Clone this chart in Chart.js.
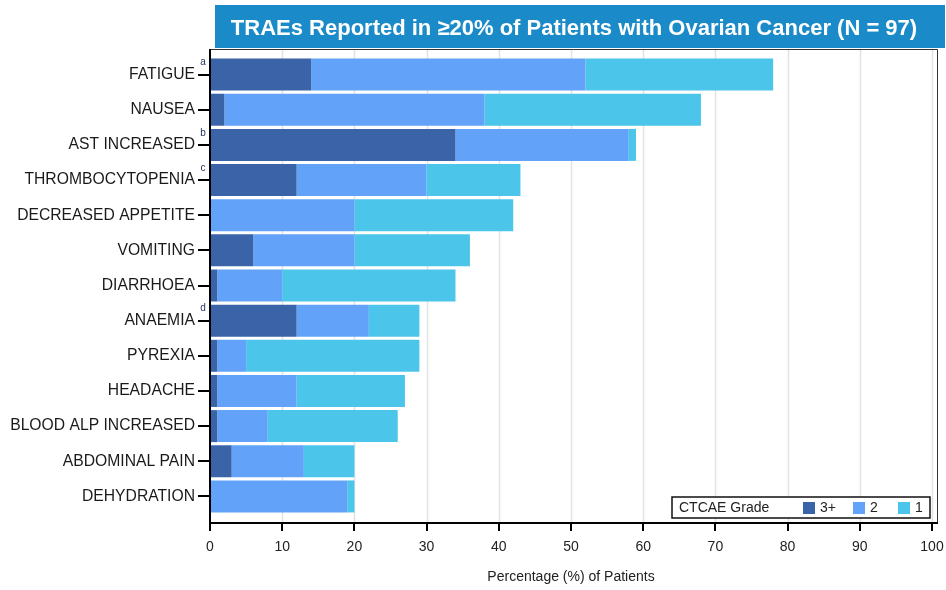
<!DOCTYPE html>
<html>
<head>
<meta charset="utf-8">
<script src="https://cdn.jsdelivr.net/npm/chart.js@4"></script>
<style>
  body { margin: 0; background: #fff; }
  #wrap { width: 946px; height: 590px; }
</style>
</head>
<body>
<div id="wrap"><canvas id="chart"></canvas></div>
<script>
// ------- DATA (percent of patients) -------
const events = ["FATIGUE", "NAUSEA", "AST INCREASED", "THROMBOCYTOPENIA", "DECREASED APPETITE",
  "VOMITING", "DIARRHOEA", "ANAEMIA", "PYREXIA", "HEADACHE", "BLOOD ALP INCREASED",
  "ABDOMINAL PAIN", "DEHYDRATION"];
const footnotes = ["a", "", "b", "c", "", "", "", "d", "", "", "", "", ""];
const grade3plus = [14, 2, 34, 12, 0, 6, 1, 12, 1, 1, 1, 3, 0];
const grade2 = [38, 36, 24, 18, 20, 14, 9, 10, 4, 11, 7, 10, 19];
const grade1 = [26, 30, 1, 13, 22, 16, 24, 7, 24, 15, 18, 7, 1];
const xTicks = [0, 10, 20, 30, 40, 50, 60, 70, 80, 90, 100];

const titleText = "TRAEs Reported in \u226520% of Patients with Ovarian Cancer (N = 97)";
const FONT = "'Liberation Sans', Arial, sans-serif";

// ------- EXTRA DRAWING: frame, grid, title box, legend, footnotes -------
const decor = {
  id: "decor",
  beforeDatasetsDraw(chart) {
    const { ctx, chartArea, scales } = chart;
    const top = chartArea.top - 8, bottom = chartArea.bottom + 9;
    ctx.save();
    ctx.strokeStyle = "#e2e2e2";
    ctx.lineWidth = 1.5;
    xTicks.slice(1).forEach(v => {
      const x = Math.round(scales.x.getPixelForValue(v)) + 0.5;
      ctx.beginPath(); ctx.moveTo(x, top); ctx.lineTo(x, bottom); ctx.stroke();
    });
    ctx.restore();
  },
  afterDraw(chart) {
    const { ctx, chartArea, scales } = chart;
    const top = chartArea.top - 8, bottom = chartArea.bottom + 9;
    const left = chartArea.left, right = chartArea.right + 5;
    ctx.save();

    // frame (top & right)
    ctx.strokeStyle = "#333";
    ctx.lineWidth = 1;
    ctx.beginPath();
    ctx.moveTo(left, top + 0.5); ctx.lineTo(right + 0.5, top + 0.5); ctx.lineTo(right + 0.5, bottom);
    ctx.stroke();

    // axes
    ctx.strokeStyle = "#000";
    ctx.lineWidth = 2;
    ctx.beginPath();
    ctx.moveTo(left, top); ctx.lineTo(left, bottom); ctx.lineTo(right + 1, bottom);
    ctx.stroke();
    xTicks.forEach(v => {
      const x = Math.round(scales.x.getPixelForValue(v));
      ctx.beginPath(); ctx.moveTo(x, bottom); ctx.lineTo(x, bottom + 8); ctx.stroke();
    });

    // footnote letters
    ctx.fillStyle = "#1f2f5a";
    ctx.font = "10px " + FONT;
    ctx.textAlign = "center";
    ctx.textBaseline = "middle";
    footnotes.forEach((f, i) => {
      if (!f) return;
      const y = scales.y.getPixelForValue(i);
      ctx.fillText(f, left - 7, y - 12);
    });

    // legend box
    const lx = 672, ly = 497, lw = 258, lh = 21;
    ctx.fillStyle = "#fff";
    ctx.fillRect(lx, ly, lw, lh);
    ctx.strokeStyle = "#111";
    ctx.lineWidth = 1.5;
    ctx.strokeRect(lx, ly, lw, lh);
    ctx.fillStyle = "#222";
    ctx.font = "14px " + FONT;
    ctx.textAlign = "left";
    ctx.fillText("CTCAE Grade", lx + 7, ly + lh / 2 + 1);
    let px = lx + 131;
    chart.data.datasets.forEach(ds => {
      ctx.fillStyle = ds.backgroundColor;
      ctx.fillRect(px, ly + 5, 12, 12);
      ctx.fillStyle = "#222";
      ctx.fillText(ds.label, px + 17, ly + lh / 2 + 1);
      px += ds.label.length > 1 ? 50 : 45;
    });

    // title box
    ctx.fillStyle = "#1a8bc8";
    ctx.fillRect(215, 5, 730, 43);
    ctx.fillStyle = "#fff";
    ctx.font = "bold 22px " + FONT;
    ctx.textAlign = "center";
    ctx.fillText(titleText, 574, 29);
    ctx.restore();
  }
};

new Chart(document.getElementById("chart"), {
  type: "bar",
  data: {
    labels: events,
    datasets: [
      { label: "3+", data: grade3plus, backgroundColor: "#3b63a8" },
      { label: "2", data: grade2, backgroundColor: "#62a3f9" },
      { label: "1", data: grade1, backgroundColor: "#4bc6ea" }
    ]
  },
  options: {
    indexAxis: "y",
    responsive: true,
    maintainAspectRatio: false,
    animation: false,
    layout: { padding: { top: 57, right: 14, left: 0, bottom: 0 } },
    datasets: { bar: { barPercentage: 0.91, categoryPercentage: 1 } },
    plugins: { legend: { display: false }, tooltip: { enabled: false } },
    scales: {
      x: {
        stacked: true,
        min: 0,
        max: 100,
        afterBuildTicks: s => { s.ticks = xTicks.map(v => ({ value: v })); },
        afterFit: s => { s.height = 76; s.paddingLeft = 0; s.paddingRight = 0; },
        grid: { display: false, drawTicks: false },
        border: { display: false },
        ticks: { padding: 25, color: "#222", font: { family: FONT, size: 14 } },
        title: { display: true, text: "Percentage (%) of Patients", color: "#222",
                 font: { family: FONT, size: 14 }, padding: { top: 0, bottom: 4 } }
      },
      y: {
        stacked: true,
        afterFit: s => { s.width = 210; s.paddingTop = 0; s.paddingBottom = 0; },
        grid: { drawOnChartArea: false, offset: false, tickLength: 12, color: "#000", lineWidth: 2 },
        border: { display: false },
        ticks: { padding: 3, color: "#1a1a1a", font: { family: FONT, size: 15.7 } }
      }
    }
  },
  plugins: [decor]
});
</script>
</body>
</html>
